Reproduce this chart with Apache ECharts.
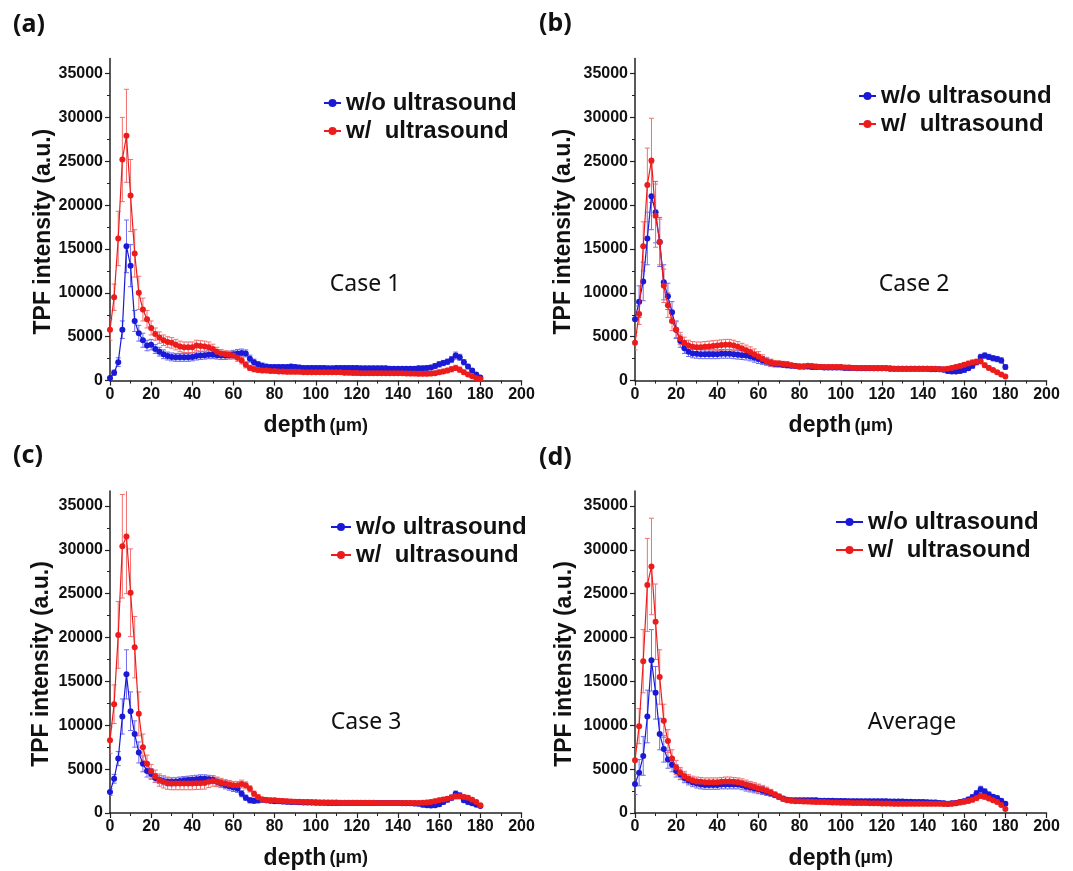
<!DOCTYPE html>
<html><head><meta charset="utf-8">
<script src="https://cdn.jsdelivr.net/npm/echarts@6/dist/echarts.min.js"></script>
<style>html,body{margin:0;padding:0;background:#fff}#c{width:1073px;height:871px}</style>
</head><body><div id="c"></div>
<script>
const depth = [0,2,4,6,8,10,12,14,16,18,20,22,24,26,28,30,32,34,36,38,40,42,44,46,48,50,52,54,56,58,60,62,64,66,68,70,72,74,76,78,80,82,84,86,88,90,92,94,96,98,100,102,104,106,108,110,112,114,116,118,120,122,124,126,128,130,132,134,136,138,140,142,144,146,148,150,152,154,156,158,160,162,164,166,168,170,172,174,176,178,180];
const yTicks = [0,5000,10000,15000,20000,25000,30000,35000];
const seriesNames = ['w/o ultrasound', 'w/  ultrasound'];
const panelLabels = ['(a)','(b)','(c)','(d)'];
const caseLabels = ['Case 1','Case 2','Case 3','Average'];
const yTitle = 'TPF intensity (a.u.)';

// Panel (a) Case 1
const aWo = [300,900,2100,5800,15300,13100,6800,5400,4600,4000,
 4100,3600,3300,3000,2800,2700,2650,2650,2650,2650,
 2700,2800,2850,2900,2950,2950,2900,2850,2850,2900,
 3000,3100,3150,3100,2500,2100,1850,1700,1600,1550,
 1550,1550,1550,1550,1600,1550,1500,1450,1450,1450,
 1450,1450,1450,1400,1400,1450,1450,1450,1450,1450,
 1450,1400,1400,1400,1400,1400,1400,1400,1350,1350,
 1350,1350,1350,1350,1350,1400,1400,1450,1500,1650,
 1850,2000,2150,2400,2850,2650,2100,1600,1150,700,
 350];
const aWoErr = [200,300,500,1000,3000,2400,1200,900,800,600,
 600,500,500,500,450,450,450,450,450,450,
 450,450,450,450,450,450,450,450,450,450,
 450,450,450,400,400,350,300,300,250,250,
 250,250,250,250,250,250,250,250,250,250,
 250,250,250,250,250,250,250,250,250,250,
 250,250,250,250,250,250,250,250,250,250,
 250,250,250,250,250,250,250,250,250,300,
 300,300,300,350,400,350,300,250,200,150,
 100];
const aW = [5800,9500,16200,25200,27900,21100,14500,10000,8100,7000,
 6000,5300,4900,4600,4400,4300,4100,3900,3800,3800,
 3800,4000,3950,3900,3800,3600,3300,3100,3000,2950,
 2850,2600,2300,1800,1450,1300,1200,1150,1150,1100,
 1100,1050,1050,1000,1000,1000,1000,950,950,950,
 950,950,950,950,950,950,950,900,900,880,
 860,850,850,850,850,850,850,850,850,850,
 840,830,820,800,800,780,780,780,800,850,
 950,1050,1150,1300,1450,1250,950,700,500,300,
 180];
const aWErr = [1200,1500,3100,4800,5300,4100,2700,1900,1300,1000,
 800,700,650,600,600,600,600,600,600,600,
 600,600,600,600,600,550,500,450,400,400,
 400,400,400,350,300,300,250,250,250,250,
 250,250,250,250,250,250,250,250,250,250,
 250,250,250,250,250,250,250,250,250,250,
 250,250,250,250,250,250,250,250,250,250,
 250,250,250,250,250,250,250,250,250,250,
 250,250,250,300,300,300,250,200,150,100,
 80];

// Panel (b) Case 2
const bWo = [7000,9000,11300,16200,21000,19200,15800,11200,9600,7800,
 5800,4500,3700,3300,3100,3050,3000,3000,3000,3000,
 3000,3050,3050,3050,3000,2950,2900,2850,2750,2600,
 2450,2300,2150,2000,1900,1850,1800,1750,1700,1650,
 1600,1600,1600,1550,1550,1550,1500,1500,1500,1500,
 1500,1450,1450,1450,1400,1400,1400,1400,1400,1400,
 1400,1400,1350,1350,1350,1350,1350,1350,1350,1350,
 1350,1350,1300,1300,1300,1250,1100,1050,1050,1100,
 1200,1400,1700,2100,2700,2850,2700,2550,2450,2300,
 1550];
const bWoErr = [1500,1800,2200,3000,3800,3500,2800,2000,1500,1200,
 1000,700,600,550,500,500,500,500,500,500,
 500,500,500,500,500,500,500,500,500,500,
 500,450,400,400,350,300,300,300,250,250,
 250,250,250,250,250,250,250,250,250,250,
 250,250,250,250,250,250,250,250,250,250,
 250,250,250,250,250,250,250,250,250,250,
 250,250,250,250,250,250,250,250,250,250,
 250,250,300,300,300,300,300,300,300,300,
 250];
const bW = [4300,7600,15300,22300,25100,18800,15800,10800,8600,6800,
 5800,4800,4300,4000,3850,3800,3800,3850,3900,3950,
 4000,4050,4100,4100,4000,3850,3650,3450,3250,3000,
 2750,2450,2200,2050,1950,1950,1900,1850,1750,1650,
 1600,1600,1700,1650,1600,1550,1550,1550,1550,1550,
 1550,1500,1500,1450,1450,1450,1450,1450,1400,1400,
 1400,1400,1400,1350,1350,1350,1350,1350,1350,1350,
 1350,1350,1350,1350,1300,1300,1350,1450,1550,1650,
 1800,1950,2050,2150,2200,1750,1450,1200,950,700,
 480];
const bWErr = [800,1200,2800,4200,4800,3600,2600,1900,1400,1100,
 900,700,650,600,600,600,600,600,600,600,
 600,600,600,600,600,600,600,600,600,600,
 550,500,450,400,350,300,300,300,250,250,
 250,250,250,250,250,250,250,250,250,250,
 250,250,250,250,250,250,250,250,250,250,
 250,250,250,250,250,250,250,250,250,250,
 250,250,250,250,250,250,250,250,250,250,
 250,250,300,300,300,250,250,200,200,150,
 100];

// Panel (c) Case 3
const cWo = [2400,3900,6200,11000,15800,11600,9000,6900,5600,4800,
 4450,4000,3800,3650,3550,3550,3600,3650,3700,3750,
 3800,3850,3900,3900,3850,3800,3550,3350,3200,3050,
 2900,2750,2200,1750,1450,1400,1450,1500,1450,1400,
 1350,1330,1300,1280,1260,1250,1230,1210,1200,1190,
 1180,1170,1160,1150,1150,1150,1140,1140,1140,1140,
 1140,1140,1140,1140,1140,1140,1140,1140,1140,1140,
 1140,1120,1100,1100,1080,1060,950,870,860,870,
 1000,1250,1500,1750,2200,2000,1450,1250,1100,950,
 800];
const cWoErr = [400,500,800,2000,2800,2200,1500,1200,900,700,
 600,500,450,450,450,450,450,450,450,450,
 450,450,450,450,450,450,450,450,450,450,
 450,400,350,300,300,300,300,250,250,250,
 250,250,250,250,250,250,250,250,250,250,
 250,250,250,250,250,250,250,250,250,250,
 250,250,250,250,250,250,250,250,250,250,
 250,250,250,250,250,250,250,250,250,250,
 250,250,250,300,300,300,250,250,200,200,
 150];
const cW = [8300,12400,20300,30400,31500,25100,18900,11300,7500,5600,
 4750,4200,3750,3550,3400,3350,3350,3350,3350,3350,
 3350,3380,3400,3420,3550,3650,3550,3450,3350,3250,
 3150,3150,3300,3150,2750,2200,1800,1550,1450,1440,
 1440,1400,1360,1330,1300,1290,1270,1250,1240,1230,
 1220,1210,1200,1200,1190,1190,1180,1180,1180,1180,
 1180,1170,1170,1160,1160,1150,1150,1150,1140,1140,
 1140,1140,1140,1140,1140,1140,1160,1200,1250,1350,
 1440,1530,1630,1780,1900,1900,1820,1750,1520,1250,
 870];
const cWErr = [1500,2200,3800,5900,6500,5000,3500,2500,1500,1000,
 800,700,700,700,700,700,700,700,700,700,
 700,700,700,700,650,600,550,500,450,450,
 450,450,450,400,350,300,300,250,250,250,
 250,250,250,250,250,250,250,250,250,250,
 250,250,250,250,250,250,250,250,250,250,
 250,250,250,250,250,250,250,250,250,250,
 250,250,250,250,250,250,250,250,250,250,
 250,250,250,250,300,300,250,250,200,200,
 150];

// Panel (d) Average
const dWo = [3300,4600,6500,11000,17400,13700,9000,7300,6100,5500,
 4800,4400,4000,3700,3500,3350,3250,3200,3200,3200,
 3200,3250,3250,3250,3250,3250,3150,3000,2900,2800,
 2700,2550,2400,2250,2050,1850,1650,1500,1450,1450,
 1450,1450,1450,1450,1450,1400,1400,1400,1400,1380,
 1380,1360,1350,1350,1350,1330,1330,1330,1330,1330,
 1330,1330,1300,1300,1300,1300,1280,1280,1250,1250,
 1250,1220,1200,1200,1150,1120,1050,1100,1150,1250,
 1350,1550,1800,2250,2700,2450,2100,1850,1700,1400,
 1050];
const dWoErr = [1200,1500,2200,3000,3500,3000,1800,1500,1000,800,
 700,600,550,500,500,500,500,500,500,500,
 500,500,500,500,500,500,500,500,500,500,
 500,450,400,350,300,300,250,250,250,250,
 250,250,250,250,250,250,250,250,250,250,
 250,250,250,250,250,250,250,250,250,250,
 250,250,250,250,250,250,250,250,250,250,
 250,250,250,250,250,250,250,250,250,250,
 250,250,300,300,350,300,300,250,250,200,
 200];
const dW = [6000,9900,17300,26000,28100,21800,15500,10500,8200,6200,
 5200,4600,4200,3900,3700,3600,3550,3500,3500,3500,
 3500,3550,3600,3600,3550,3500,3400,3250,3100,2950,
 2800,2700,2550,2350,2100,1850,1600,1450,1400,1350,
 1350,1320,1300,1280,1260,1250,1240,1220,1200,1200,
 1180,1170,1160,1150,1150,1140,1140,1120,1100,1100,
 1080,1080,1070,1060,1050,1050,1050,1050,1050,1050,
 1050,1050,1050,1050,1050,1040,1030,1060,1100,1200,
 1280,1380,1500,1700,1950,1850,1650,1450,1250,900,
 470];
const dWErr = [1500,2000,3600,5300,5500,4300,3100,1900,1300,1000,
 800,600,550,500,500,500,500,500,500,500,
 500,500,500,500,500,500,500,500,500,500,
 500,450,400,350,300,300,250,250,250,250,
 250,250,250,250,250,250,250,250,250,250,
 250,250,250,250,250,250,250,250,250,250,
 250,250,250,250,250,250,250,250,250,250,
 250,250,250,250,250,250,250,250,250,250,
 250,250,250,300,300,300,250,200,200,150,
 100];

const BLUE = '#1a1ad6', RED = '#ec1c1c';
const BLUE_ERR = '#6c6cf2', RED_ERR = '#f27070';
const FONT = 'Liberation Sans';

const panels = [
  {wo:aWo, woErr:aWoErr, w:aW, wErr:aWErr, left:110, top:58.6, lx:13, ly:27, tx:44, leg:{left:323, top:91, iw:17}, cx:365, cy:284},
  {wo:bWo, woErr:bWoErr, w:bW, wErr:bWErr, left:635, top:58.6, lx:539, ly:26, tx:564, leg:{left:858, top:84, iw:17}, cx:914, cy:284},
  {wo:cWo, woErr:cWoErr, w:cW, wErr:cWErr, left:110, top:491, lx:13, ly:458, tx:42, leg:{left:330, top:515, iw:20}, cx:366, cy:722},
  {wo:dWo, woErr:dWoErr, w:dW, wErr:dWErr, left:635, top:491, lx:539, ly:460, tx:565, leg:{left:835, top:510, iw:27}, cx:912, cy:722}
];
const W = 411.5, H = 322, YMAX = 36700;

function errRender(color) {
  return function (params, api) {
    const x = api.value(0), y = api.value(1), e = api.value(2);
    const p1 = api.coord([x, y + e]);
    const p2 = api.coord([x, y - e]);
    const hw = 2.5;
    const st = {stroke: color, lineWidth: 1};
    return {type: 'group', children: [
      {type: 'line', shape: {x1: p1[0], y1: p1[1], x2: p2[0], y2: p2[1]}, style: st},
      {type: 'line', shape: {x1: p1[0] - hw, y1: p1[1], x2: p1[0] + hw, y2: p1[1]}, style: st},
      {type: 'line', shape: {x1: p2[0] - hw, y1: p2[1], x2: p2[0] + hw, y2: p2[1]}, style: st}
    ]};
  };
}

const grid = [], xAxis = [], yAxis = [], series = [], legend = [], graphic = [];
panels.forEach((p, i) => {
  grid.push({left: p.left, top: p.top, width: W, height: H, containLabel: false});
  xAxis.push({
    type: 'value', gridIndex: i, min: 0, max: 200, interval: 20,
    name: '{a|depth} {b|(\u00b5m)}', nameLocation: 'middle', nameGap: 34,
    nameTextStyle: {rich: {a: {fontFamily: FONT, fontWeight: 'bold', fontSize: 23, color: '#111'}, b: {fontFamily: FONT, fontWeight: 'bold', fontSize: 18, color: '#111'}}},
    axisLine: {show: true, lineStyle: {color: '#222', width: 1.5}},
    axisTick: {show: true, inside: false, length: 5, lineStyle: {color: '#222', width: 1.2}},
    minorTick: {show: true, splitNumber: 2, length: 3, lineStyle: {color: '#222', width: 1}},
    axisLabel: {fontFamily: FONT, fontWeight: 'bold', fontSize: 16, color: '#111', margin: 6, formatter: v => String(v)},
    splitLine: {show: false}
  });
  yAxis.push({
    type: 'value', gridIndex: i, min: 0, max: YMAX, interval: 5000,
    axisLine: {show: true, lineStyle: {color: '#222', width: 1.5}},
    axisTick: {show: true, inside: false, length: 5, lineStyle: {color: '#222', width: 1.2}, customValues: yTicks},
    minorTick: {show: true, splitNumber: 2, length: 3, lineStyle: {color: '#222', width: 1}},
    axisLabel: {fontFamily: FONT, fontWeight: 'bold', fontSize: 16, color: '#111', margin: 7, customValues: yTicks, formatter: v => String(v)},
    splitLine: {show: false}
  });
  const woErrData = depth.map((d, k) => [d, p.wo[k], p.woErr[k]]);
  const wErrData = depth.map((d, k) => [d, p.w[k], p.wErr[k]]);
  series.push({type: 'custom', xAxisIndex: i, yAxisIndex: i, renderItem: errRender(BLUE_ERR), data: woErrData, encode: {x: 0, y: 1}, clip: true, z: 1, silent: true});
  series.push({type: 'custom', xAxisIndex: i, yAxisIndex: i, renderItem: errRender(RED_ERR), data: wErrData, encode: {x: 0, y: 1}, clip: true, z: 1, silent: true});
  series.push({type: 'line', name: seriesNames[0], xAxisIndex: i, yAxisIndex: i, data: depth.map((d, k) => [d, p.wo[k]]),
    symbol: 'circle', symbolSize: 6, showSymbol: true, color: BLUE, lineStyle: {color: BLUE, width: 1.2}, itemStyle: {color: BLUE}, z: 3});
  series.push({type: 'line', name: seriesNames[1], xAxisIndex: i, yAxisIndex: i, data: depth.map((d, k) => [d, p.w[k]]),
    symbol: 'circle', symbolSize: 6, showSymbol: true, color: RED, lineStyle: {color: RED, width: 1.2}, itemStyle: {color: RED}, z: 4});
  legend.push({
    data: seriesNames, orient: 'vertical', left: p.leg.left, top: p.leg.top, itemWidth: p.leg.iw, itemHeight: 10, itemGap: 4,
    selectedMode: false, padding: 0,
    textStyle: {fontFamily: FONT, fontWeight: 'bold', fontSize: 24, color: '#111', lineHeight: 24}
  });
  graphic.push({type: 'text', left: p.lx, top: p.ly - 15, style: {text: panelLabels[i], fontFamily: 'Noto Sans', fontWeight: 'bold', fontSize: 25, fill: '#111'}});
  graphic.push({type: 'text', x: p.cx, y: p.cy, style: {text: caseLabels[i], fontFamily: 'Noto Sans', fontSize: 23, fill: '#111', align: 'center', verticalAlign: 'middle'}});
  graphic.push({type: 'text', x: p.tx, y: p.top + H / 2 + 12, rotation: Math.PI / 2,
    style: {text: yTitle, fontFamily: FONT, fontWeight: 'bold', fontSize: 23, fill: '#111', align: 'center', verticalAlign: 'middle'}});
});

const chart = echarts.init(document.getElementById('c'), null, {renderer: 'canvas'});
chart.setOption({backgroundColor: '#fff', animation: false, grid, xAxis, yAxis, series, legend, graphic});
</script></body></html>
